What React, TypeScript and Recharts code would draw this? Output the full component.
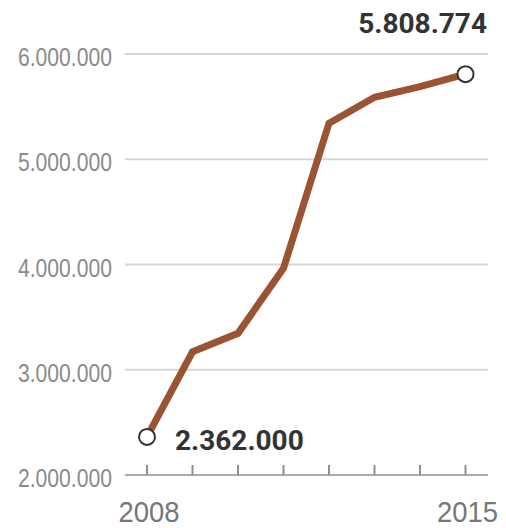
import React from "react";
import { LineChart, Line, XAxis, YAxis, CartesianGrid, LabelList } from "recharts";

const years = [2008, 2009, 2010, 2011, 2012, 2013, 2014, 2015];
const values = [2362000, 3171000, 3346000, 3964000, 5342000, 5589000, 5690000, 5808774];
const yTicks = [2000000, 3000000, 4000000, 5000000, 6000000];
const labeledYears = [2008, 2015];

const data = years.map((year, i) => ({ year, value: values[i] }));

const fmt = (v: number) => Math.round(v).toString().replace(/\B(?=(\d{3})+(?!\d))/g, ".");

const YTick = (props: any) => {
  const { x, y, payload } = props;
  return (
    <text
      x={x}
      y={y}
      dy={12}
      textAnchor="end"
      fontFamily="'Liberation Sans', Arial, sans-serif"
      fontSize={26}
      fill="#8a8a8a"
      textLength={94}
      lengthAdjust="spacingAndGlyphs"
    >
      {fmt(payload.value)}
    </text>
  );
};

const XTick = (props: any) => {
  const { x, y, payload } = props;
  return (
    <g>
      <line x1={x} x2={x} y1={y} y2={y - 10} stroke="#8f8f8f" strokeWidth={2} />
      {labeledYears.includes(payload.value) && (
        <text
          x={x + 2}
          y={y + 47}
          textAnchor="middle"
          fontFamily="'Liberation Sans', Arial, sans-serif"
          fontSize={30}
          fill="#777"
          textLength={61}
          lengthAdjust="spacingAndGlyphs"
        >
          {payload.value}
        </text>
      )}
    </g>
  );
};

const renderDot = (props: any) => {
  const { cx, cy, index } = props;
  if (index === 0 || index === data.length - 1) {
    return <circle key={`dot-${index}`} cx={cx} cy={cy} r={8} fill="#fff" stroke="#333" strokeWidth={2} />;
  }
  return <g key={`dot-${index}`} />;
};

const renderLabel = (props: any) => {
  const { x, y, value, index } = props;
  if (index === 0) {
    return (
      <text x={x + 28} y={y + 13} textAnchor="start" fontFamily="Roboto, sans-serif" fontWeight={700} fontSize={28} fill="#333">
        {fmt(value)}
      </text>
    );
  }
  if (index === data.length - 1) {
    return (
      <text x={x + 21.5} y={y - 41} textAnchor="end" fontFamily="Roboto, sans-serif" fontWeight={700} fontSize={28} fill="#333">
        {fmt(value)}
      </text>
    );
  }
  return null;
};

export default function App() {
  return (
    <div style={{ position: "absolute", left: 0, top: 0, background: "#fff" }}>
      <LineChart width={506} height={528} data={data} margin={{ top: 54, right: 18, bottom: 0, left: 0 }}>
        <CartesianGrid vertical={false} stroke="#d6d6d6" strokeWidth={2} />
        <XAxis
          dataKey="year"
          type="number"
          domain={[2008, 2015]}
          ticks={years}
          padding={{ left: 22, right: 22.5 }}
          height={53}
          tickSize={0}
          tickMargin={0}
          tickLine={false}
          axisLine={{ stroke: "#aaa", strokeWidth: 2 }}
          tick={<XTick />}
          interval={0}
        />
        <YAxis
          type="number"
          domain={[2000000, 6000000]}
          ticks={yTicks}
          width={125}
          tickSize={0}
          tickMargin={13}
          axisLine={false}
          tickLine={false}
          tick={<YTick />}
          interval={0}
        />
        <Line
          type="linear"
          dataKey="value"
          stroke="#9a5333"
          strokeWidth={7}
          dot={renderDot}
          activeDot={false}
          isAnimationActive={false}
        >
          <LabelList dataKey="value" content={renderLabel} />
        </Line>
      </LineChart>
    </div>
  );
}
